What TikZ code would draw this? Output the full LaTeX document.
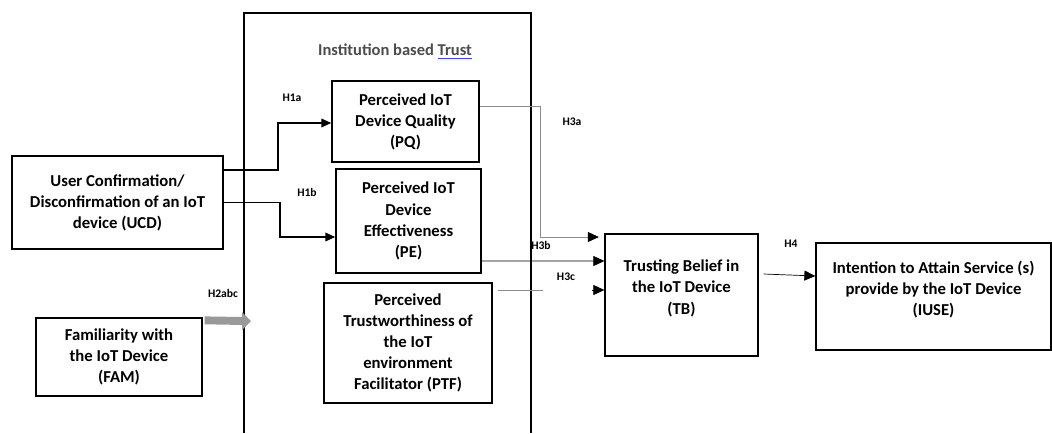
\documentclass[tikz,border=0pt]{standalone}
\usepackage{fontspec}
\setmainfont{Carlito}
\usetikzlibrary{arrows.meta,positioning,calc}

\begin{document}
\begin{tikzpicture}[
  x=0.02cm, y=-0.02cm,
  font=\bfseries\fontsize{9.5}{12}\selectfont,
  box/.style={draw,rectangle,align=center,inner sep=2pt,line width=0.75pt},
  hyp/.style={font=\bfseries\fontsize{6.6}{8}\selectfont,inner sep=0pt},
  conn/.style={line width=1.1pt,-{Triangle[length=0.2cm,width=0.17cm]}},
  link/.style={line width=0.4pt,-{Triangle[length=0.22cm,width=0.2cm]}},
  faint/.style={line width=0.4pt,draw=black!45}
]
  \useasboundingbox (0,0) rectangle (1052,433);

  % institution based trust frame, open at the bottom
  \draw[line width=1.1pt] (244,433) -- (244,13) -- (531,13) -- (531,433);
  \node[font=\bfseries\fontsize{9.4}{11}\selectfont,text=black!70] (title) at (395,52)
    {Institution based {\color{blue!75}\underline{{\color{black!70}Trust}}}};

  % constructs
  \node[box,minimum width=4.22cm,minimum height=1.86cm] (ucd) at (117.5,202.5)
    {User Confirmation/\\Disconfirmation of an IoT\\device (UCD)};
  \node[box,minimum width=3.32cm,minimum height=1.56cm] (fam) at (119,357)
    {Familiarity with\\the IoT Device\\(FAM)};
  \node[box,minimum width=2.94cm,minimum height=1.62cm] (pq) at (405.5,121.5)
    {Perceived IoT\\Device Quality\\(PQ)};
  \node[box,minimum width=2.9cm,minimum height=2.08cm] (pe) at (408.5,221)
    {Perceived IoT\\Device\\Effectiveness\\(PE)};
  \node[box,minimum width=3.36cm,minimum height=2.4cm] (ptf) at (408,343)
    {Perceived\\Trustworthiness of\\the IoT\\environment\\Facilitator (PTF)};
  \node[box,minimum width=3.06cm,minimum height=2.44cm] (tb) at (681.5,295)
    {Trusting Belief in\\the IoT Device\\(TB)\\[-3pt]~};
  \node[box,minimum width=4.7cm,minimum height=2.14cm] (iuse) at (933.5,296.5)
    {Intention to Attain Service (s)\\provide by the IoT Device\\(IUSE)\\[-3pt]~};

  % H1: UCD to PQ and PE
  \draw[conn] ([yshift=0.65cm]ucd.east) -- ++(54,0) |- ([yshift=-0.03cm]pq.west);
  \draw[conn] (ucd.east) -- ++(56,0) |- ([yshift=-0.32cm]pe.west);

  % H2: FAM into the frame, a broad grey arrow
  \coordinate (h2tip) at (251,321);
  \draw[draw=black!40,line width=4.5pt]
    ([xshift=0.04cm,yshift=-0.06cm]fam.north east) -- ([xshift=-0.17cm]h2tip);
  \fill[black!40] (h2tip) -- ++(-9,-9) -- ++(0,18) -- cycle;

  % H3: PQ, PE, PTF to TB
  \draw[faint,-{Triangle[length=0.22cm,width=0.2cm,color=black]}]
    ([yshift=0.31cm]pq.east) -- ++(61,0) |- ([xshift=-0.11cm,yshift=1.16cm]tb.west);
  \draw[link] ([yshift=-0.8cm]pe.east) -- ([yshift=0.68cm]tb.west);
  \draw[faint] ([xshift=0.1cm,yshift=1.06cm]ptf.east) -- ++(45,0);
  \draw[link] ([xshift=-0.24cm,yshift=0.1cm]tb.west) -- ([yshift=0.1cm]tb.west);

  % H4: TB to IUSE
  \draw[link] ([xshift=0.1cm,yshift=0.42cm]tb.east) -- ([yshift=0.41cm]iuse.west);

  % hypothesis labels
  \node[hyp] (h1a) at (292,98) {H1a};
  \node[hyp] (h1b) at (307,192) {H1b};
  \node[hyp] (h2abc) at (223,293) {H2abc};
  \node[hyp] (h3a) at (572,122) {H3a};
  \node[hyp] (h3b) at (541,245) {H3b};
  \node[hyp] (h3c) at (566,277) {H3c};
  \node[hyp] (h4) at (791,244) {H4};
\end{tikzpicture}
\end{document}
